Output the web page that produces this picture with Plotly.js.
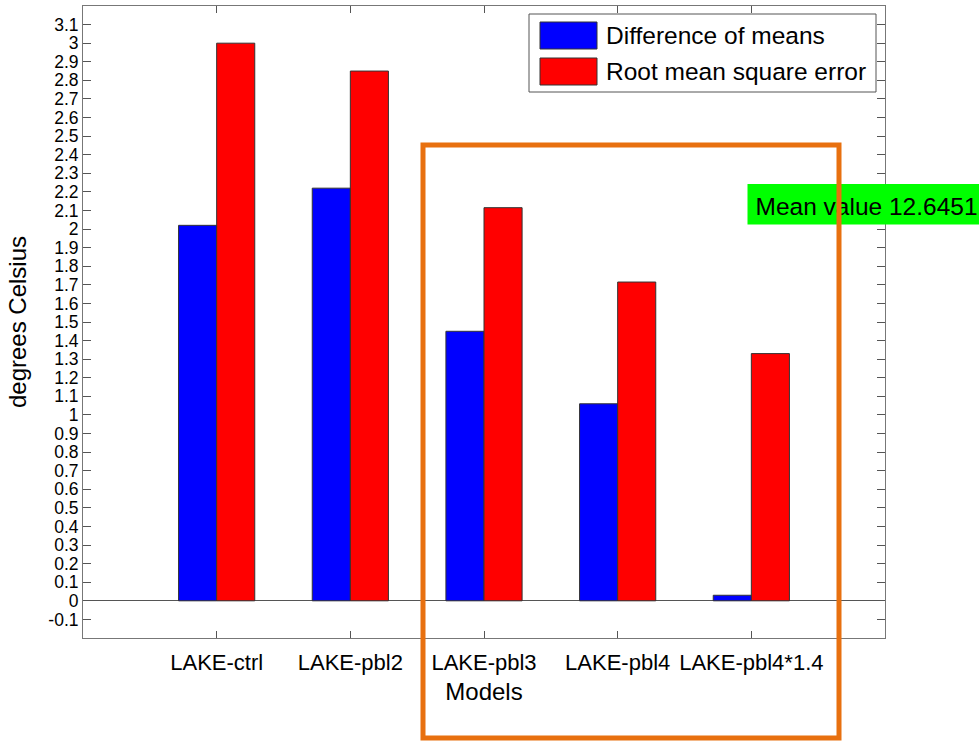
<!DOCTYPE html>
<html>
<head>
<meta charset="utf-8">
<script src="https://cdn.plot.ly/plotly-3.0.1.min.js"></script>
<style>html,body{margin:0;padding:0;background:#fff;}#chart{width:979px;height:742px;}</style>
</head>
<body>
<div id="chart"></div>
<script>
// ---- data ----
const models = ["LAKE-ctrl", "LAKE-pbl2", "LAKE-pbl3", "LAKE-pbl4", "LAKE-pbl4*1.4"];
const diffOfMeans = [2.02, 2.22, 1.45, 1.06, 0.03];
const rmse = [3.00, 2.85, 2.115, 1.715, 1.33];
const seriesNames = ["Difference of means", "Root mean square error"];
const seriesColors = ["#0000FF", "#FF0000"];
const yTickLabels = ["-0.1", "0", "0.1", "0.2", "0.3", "0.4", "0.5", "0.6", "0.7", "0.8", "0.9",
  "1", "1.1", "1.2", "1.3", "1.4", "1.5", "1.6", "1.7", "1.8", "1.9",
  "2", "2.1", "2.2", "2.3", "2.4", "2.5", "2.6", "2.7", "2.8", "2.9",
  "3", "3.1"];
const meanLabel = "Mean value 12.6451";
const xTitle = "Models";
const yTitle = "degrees Celsius";

const FONT = "Liberation Sans, Arial, Helvetica, sans-serif";

// plot area in pixels (for paper-coordinate conversion of overlays)
const W = 979, H = 742, L = 83, R = 94, T = 6, B = 104;
const pw = W - L - R, ph = H - T - B;
const px = x => (x - L) / pw;
const py = y => (H - B - y) / ph;

const traces = [
  {type: "bar", x: models, y: diffOfMeans, name: seriesNames[0],
   marker: {color: seriesColors[0], line: {color: "#333", width: 1}}},
  {type: "bar", x: models, y: rmse, name: seriesNames[1],
   marker: {color: seriesColors[1], line: {color: "#333", width: 1}}}
];

const shapes = [
  // legend box
  {type: "rect", xref: "paper", yref: "paper", x0: px(529), x1: px(876), y0: py(92), y1: py(14),
   fillcolor: "#fff", line: {color: "#555", width: 1}},
  {type: "rect", xref: "paper", yref: "paper", x0: px(540), x1: px(597), y0: py(49), y1: py(22),
   fillcolor: seriesColors[0], line: {color: "#333", width: 1}},
  {type: "rect", xref: "paper", yref: "paper", x0: px(540), x1: px(597), y0: py(85), y1: py(58),
   fillcolor: seriesColors[1], line: {color: "#333", width: 1}},
  // green mean value box
  {type: "rect", xref: "paper", yref: "paper", x0: px(747.5), x1: px(980), y0: py(224.5), y1: py(184),
   fillcolor: "#00FF00", line: {width: 0},
   label: {text: meanLabel, textposition: "middle left", padding: 5,
           font: {family: FONT, size: 24.5, color: "#000"}}},
  // orange highlight frame
  {type: "rect", xref: "paper", yref: "paper", x0: px(423), x1: px(839), y0: py(738), y1: py(145),
   line: {color: "#E8700F", width: 5}, fillcolor: "rgba(0,0,0,0)"}
];

const annotations = [
  {xref: "paper", yref: "paper", x: px(604), y: py(35.5), xanchor: "left", yanchor: "middle",
   text: seriesNames[0], showarrow: false, font: {family: FONT, size: 24.5, color: "#000"}},
  {xref: "paper", yref: "paper", x: px(604), y: py(71.5), xanchor: "left", yanchor: "middle",
   text: seriesNames[1], showarrow: false, font: {family: FONT, size: 24.5, color: "#000"}}
];

const layout = {
  width: W, height: H,
  margin: {l: L, r: R, t: T, b: B, pad: 0},
  paper_bgcolor: "#fff", plot_bgcolor: "#fff",
  barmode: "group", bargap: 0.43, bargroupgap: 0,
  showlegend: false,
  font: {family: FONT, color: "#000"},
  xaxis: {
    type: "category", range: [-1, 5],
    showgrid: false, zeroline: false,
    showline: true, linecolor: "#777", linewidth: 1, mirror: "ticks",
    ticks: "inside", ticklen: 7, tickcolor: "#555",
    tickfont: {family: FONT, size: 22, color: "#000"},
    ticklabelstandoff: 5,
    title: {text: xTitle, font: {family: FONT, size: 24, color: "#000"}, standoff: 8}
  },
  yaxis: {
    range: [-0.2, 3.2],
    tickmode: "array",
    tickvals: yTickLabels.map(Number),
    ticktext: yTickLabels,
    showgrid: false,
    zeroline: true, zerolinecolor: "#555", zerolinewidth: 1,
    showline: true, linecolor: "#777", linewidth: 1, mirror: "ticks",
    ticks: "inside", ticklen: 8, tickcolor: "#555",
    tickfont: {family: FONT, size: 17.5, color: "#000"},
    ticklabelstandoff: 0,
    title: {text: yTitle, font: {family: FONT, size: 24, color: "#000"}, standoff: 14}
  },
  shapes: shapes,
  annotations: annotations
};

Plotly.newPlot("chart", traces, layout, {staticPlot: true, displayModeBar: false});
</script>
</body>
</html>
